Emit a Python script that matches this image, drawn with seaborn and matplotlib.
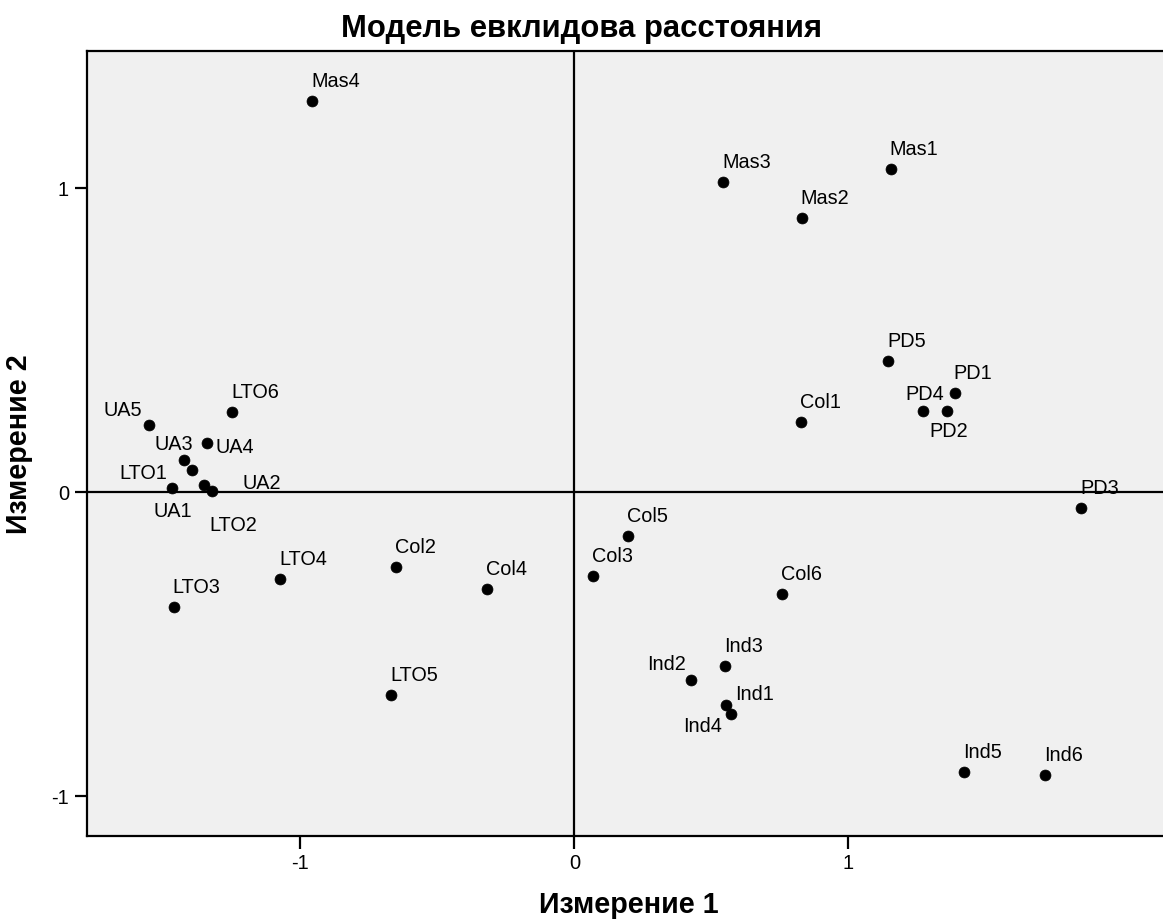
import matplotlib
matplotlib.use("Agg")
import matplotlib.pyplot as plt
import seaborn as sns
import pandas as pd

# ---- data ----
labels = ["Mas1", "Mas2", "Mas3", "Mas4",
          "PD1", "PD2", "PD3", "PD4", "PD5",
          "Col1", "Col2", "Col3", "Col4", "Col5", "Col6",
          "Ind1", "Ind2", "Ind3", "Ind4", "Ind5", "Ind6",
          "LTO1", "LTO2", "LTO3", "LTO4", "LTO5", "LTO6",
          "UA1", "UA2", "UA3", "UA4", "UA5"]
dim1 = [1.155, 0.829, 0.543, -0.956,
        1.388, 1.360, 1.850, 1.272, 1.146,
        0.827, -0.650, 0.068, -0.320, 0.195, 0.756,
        0.555, 0.424, 0.551, 0.573, 1.421, 1.718,
        -1.394, -1.323, -1.463, -1.073, -0.668, -1.249,
        -1.467, -1.353, -1.426, -1.341, -1.551]
dim2 = [1.063, 0.902, 1.022, 1.288,
        0.328, 0.268, -0.052, 0.268, 0.433,
        0.231, -0.244, -0.275, -0.317, -0.142, -0.335,
        -0.699, -0.618, -0.570, -0.729, -0.919, -0.929,
        0.074, 0.006, -0.376, -0.286, -0.665, 0.263,
        0.016, 0.025, 0.107, 0.162, 0.222]
tick_values = [-1, 0, 1]
tick_labels = ["-1", "0", "1"]
title = "Модель евклидова расстояния"
xlabel = "Измерение 1"
ylabel = "Измерение 2"

df = pd.DataFrame({"label": labels, "dim1": dim1, "dim2": dim2})

# ---- label placement (pixels: left edge dx, cap-centre dy; image coords) ----
default_off = (-1, -21)
label_off = {
    "UA5": (-46, -15.7), "UA3": (-29.3, -16.7), "UA4": (8.3, 2.7),
    "LTO1": (-73, 1.7), "UA1": (-19, 22.3), "UA2": (38.4, -3.3),
    "LTO2": (-2.4, 33.3), "Ind2": (-43.3, -17), "Ind1": (8.3, -12.3),
    "Ind4": (-48.3, 11), "PD4": (-17.7, -18.3), "PD2": (-17.3, 19),
}

sns.set_theme(style="white")
plt.rcParams["font.family"] = ["Liberation Sans", "DejaVu Sans"]
plt.rcParams["text.color"] = "black"
plt.rcParams["axes.labelcolor"] = "black"
plt.rcParams["xtick.color"] = "black"
plt.rcParams["ytick.color"] = "black"

W, H = 1163, 922
fig = plt.figure(figsize=(W / 100, H / 100), dpi=100)
ax = fig.add_axes([87 / W, 1 - 836 / H, (W - 87) / W + 0.002, (836 - 51) / H])
ax.set_facecolor("#F0F0F0")

sns.scatterplot(data=df, x="dim1", y="dim2", color="black", s=62,
                edgecolor="black", linewidth=0.5, ax=ax, zorder=3)

ax.axhline(0, color="black", lw=1.6, zorder=2)
ax.axvline(0, color="black", lw=1.6, zorder=2)

for lab, xv, yv in zip(labels, dim1, dim2):
    dx, dy = label_off.get(lab, default_off)
    ax.annotate(lab, (xv, yv), xytext=(dx, -dy - 7), textcoords="offset pixels",
                ha="left", va="baseline", fontsize=14.3, color="black", zorder=4)

ax.set_xlim(-1.779, 2.157)
ax.set_ylim(-1.130, 1.452)
ax.set_xticks(tick_values)
ax.set_xticklabels(tick_labels)
ax.set_yticks(tick_values)
ax.set_yticklabels(tick_labels)
ax.tick_params(axis="both", direction="out", length=9, width=1.6,
               labelsize=14.5, pad=4, colors="black", bottom=True, left=True)
ax.set_xlabel("")
ax.set_ylabel("")
for side in ["left", "bottom", "top"]:
    ax.spines[side].set_color("black")
    ax.spines[side].set_linewidth(1.6)
ax.spines["right"].set_visible(False)

fig.text(0.5, 1 - 37 / H, title, ha="center", va="baseline",
         fontsize=22.3, fontweight="bold", color="black")
fig.text(629 / W, 1 - 913 / H, xlabel, ha="center", va="baseline",
         fontsize=20.6, fontweight="bold", color="black")
fig.text(5 / W, 1 - 444 / H, ylabel, ha="left", va="center", rotation=90,
         fontsize=20.6, fontweight="bold", color="black")

fig.savefig("out.png", dpi=100)
